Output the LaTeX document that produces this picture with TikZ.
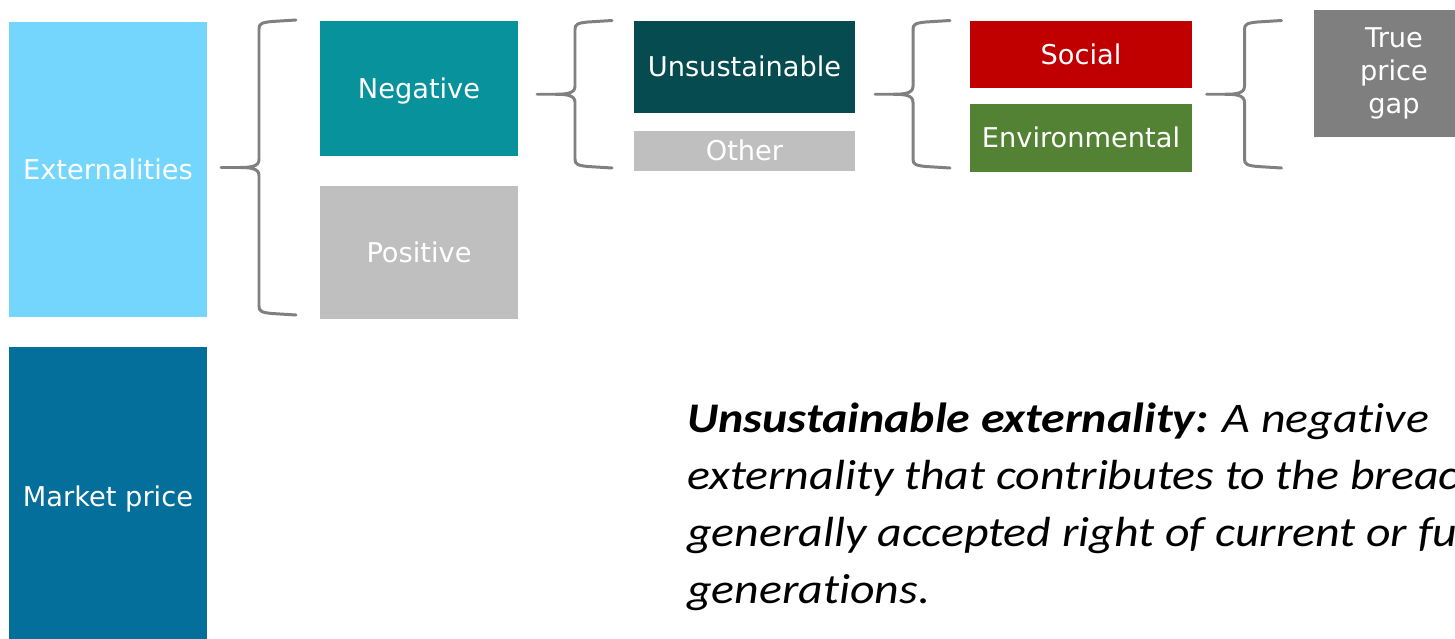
\documentclass[tikz,border=0pt]{standalone}
\usepackage{fontspec}
\setmainfont{DejaVu Sans}
\newfontfamily\notefont[FakeStretch=1.135, Ligatures={NoCommon}]{Carlito}
\usepackage{xcolor}
\usepackage{tikz}

\definecolor{extblue}{RGB}{116,214,253}
\definecolor{mktblue}{RGB}{3,111,154}
\definecolor{negteal}{RGB}{8,146,155}
\definecolor{unsgreen}{RGB}{5,75,79}
\definecolor{boxgray}{RGB}{191,191,191}
\definecolor{socred}{RGB}{192,0,0}
\definecolor{envgreen}{RGB}{84,130,53}
\definecolor{gapgray}{RGB}{127,127,127}
\definecolor{bracegray}{RGB}{128,128,128}

\tikzset{
    box/.style={rectangle, inner sep=0pt, text=white, font=\fontsize{15.5}{18.7}\selectfont},
    oneline/.style={text height=11.3pt, text depth=0pt},
    bracket/.style={draw=bracegray, line width=1.7pt, line cap=round}
}

\begin{document}
\begin{tikzpicture}[x=0.02cm, y=-0.02cm]
        % Frame
        \useasboundingbox (0,0) rectangle (1455,639);
        \clip (0,0) rectangle (1455,639);

        % Left column
        \node[box, oneline, fill=extblue, minimum width=3.96cm, minimum height=5.9cm] (ext) at (108,169.5) {Externalities};
        \node[box, oneline, fill=mktblue, minimum width=3.96cm, minimum height=6cm] (mkt) at (108,497) {Market price};

        % Negative and positive
        \node[box, oneline, fill=negteal, minimum width=3.96cm, minimum height=2.7cm] (neg) at (419,88.5) {Negative};
        \node[box, oneline, fill=boxgray, minimum width=3.96cm, minimum height=2.66cm] (pos) at (419,252.5) {Positive};

        % Unsustainable and other
        \node[box, oneline, fill=unsgreen, minimum width=4.42cm, minimum height=1.84cm] (uns) at (744.5,67) {Unsustainable};
        \node[box, oneline, fill=boxgray, minimum width=4.42cm, minimum height=0.82cm] (oth) at (744.5,151) {Other};

        % Social and environmental
        \node[box, oneline, fill=socred, minimum width=4.44cm, minimum height=1.33cm] (soc) at (1081,54.3) {Social};
        \node[box, oneline, fill=envgreen, minimum width=4.44cm, minimum height=1.35cm] (env) at (1081,138) {Environmental};

        % True price gap
        \node[box, align=center, fill=gapgray, minimum width=3.2cm, minimum height=2.53cm] (tpg) at (1394,73.3) {True\\price\\gap};

        % Braces
        \foreach \xt/\yt/\yb in {221/20/315, 537/20.5/168, 875/20.5/168, 1206.5/20.5/168} {
            \pgfmathsetmacro\ym{(\yt+\yb)/2}
            \pgfmathsetmacro\xv{\xt+38}
            \pgfmathsetmacro\xe{\xt+75}
            \draw[bracket] (\xe,\yt) -- (\xv+13,\yt+1.5) .. controls (\xv+2,\yt+2.5) and (\xv,\yt+4) .. (\xv,\yt+9)
                -- (\xv,\ym-8) .. controls (\xv,\ym-1) and (\xv-8,\ym) .. (\xv-20,\ym) -- (\xt,\ym)
                (\xv-20,\ym) .. controls (\xv-8,\ym) and (\xv,\ym+1) .. (\xv,\ym+8)
                -- (\xv,\yb-9) .. controls (\xv,\yb-4) and (\xv+2,\yb-2.5) .. (\xv+13,\yb-1.5) -- (\xe,\yb);
        }

        % Definition (base is the last line)
        \node[anchor=base west, inner sep=0pt, align=left, font=\notefont\itshape\fontsize{24}{32.4}\selectfont] (defn) at (687,603)
            {\textbf{Unsustainable externality:} A negative\\
             externality that contributes to the breach of a\\
             generally accepted right of current or future\\
             generations.};
    \end{tikzpicture}
\end{document}
